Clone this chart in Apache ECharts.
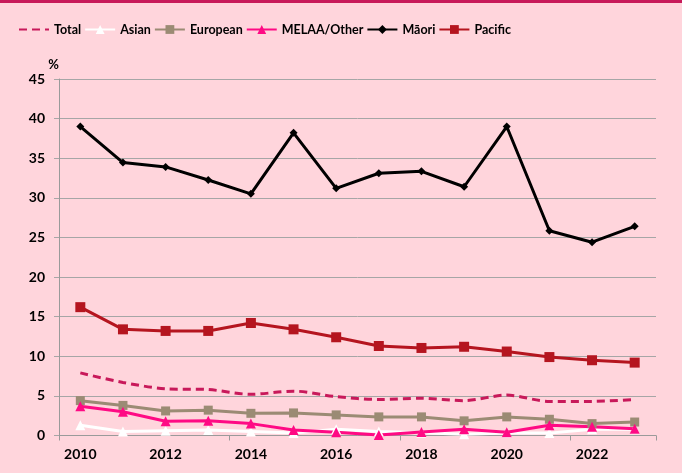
<!DOCTYPE html>
<html lang="en">
<head>
    <meta charset="UTF-8">
    <title>Rates by ethnicity</title>
    <style>
        body{
            margin: 0;
            background: #ffffff;
        }
        #main{
            width: 682px;
            height: 470px;
            border-top: 3px solid #c8195a;
            background: #ffd5dc;
        }
    </style>
</head>
<body>
<div id="main"></div>
<script src="https://cdn.jsdelivr.net/npm/echarts@6/dist/echarts.min.js"></script>
<script>
    // data
    const years = ['2010', '2011', '2012', '2013', '2014', '2015', '2016', '2017', '2018', '2019', '2020', '2021', '2022', '2023'];
    const total = [7.9, 6.7, 5.9, 5.8, 5.2, 5.6, 4.9, 4.55, 4.7, 4.4, 5.1, 4.3, 4.3, 4.55];
    const asian = [1.3, 0.5, 0.6, 0.7, 0.5, 0.3, 0.8, 0.5, 0.35, 0.15, 0.3, 0.3, 0.8, 0.8];
    const european = [4.4, 3.8, 3.1, 3.2, 2.8, 2.85, 2.6, 2.35, 2.35, 1.85, 2.35, 2.05, 1.5, 1.7];
    const melaa = [3.7, 3.0, 1.8, 1.85, 1.5, 0.7, 0.4, 0.05, 0.45, 0.8, 0.4, 1.3, 1.1, 0.85];
    const maori = [39.0, 34.45, 33.9, 32.25, 30.5, 38.2, 31.2, 33.1, 33.35, 31.4, 39.0, 25.85, 24.4, 26.4];
    const pacific = [16.2, 13.4, 13.2, 13.2, 14.2, 13.4, 12.4, 11.3, 11.05, 11.2, 10.6, 9.9, 9.5, 9.2];

    const font = 'Lato, "Open Sans", sans-serif';

    const myChart = echarts.init(document.getElementById('main'));

    // helper for the plain marker lines
    function lineSeries(name, data, color, symbol, size){
        return {
            name: name,
            type: 'line',
            data: data,
            symbol: symbol,
            symbolSize: size,
            lineStyle: {color: color, width: 3},
            itemStyle: {color: color},
            animation: false
        };
    }

    const option = {
        textStyle: {fontFamily: font},
        legend: {
            left: 18,
            top: 20,
            padding: 0,
            itemWidth: 30,
            itemHeight: 11,
            itemGap: 3,
            textStyle: {fontFamily: font, fontWeight: 'bold', fontSize: 12.5, color: '#000'},
            data: [
                {name: 'Total', itemStyle: {opacity: 0}},
                'Asian', 'European', 'MELAA/Other', 'Māori', 'Pacific'
            ]
        },
        grid: {
            left: 59,
            right: 26,
            top: 76,
            bottom: 37.5
        },
        xAxis: {
            type: 'category',
            data: years,
            boundaryGap: true,
            axisLine: {lineStyle: {color: '#9a9a9a', width: 1}},
            axisTick: {show: true, interval: 3, length: 5, lineStyle: {color: '#9a9a9a'}},
            axisLabel: {
                interval: 1,
                margin: 12,
                fontFamily: font,
                fontWeight: 'bold',
                fontSize: 14,
                color: '#000'
            }
        },
        yAxis: {
            type: 'value',
            min: 0,
            max: 45,
            interval: 5,
            name: '%',
            nameLocation: 'end',
            nameGap: 8,
            nameTextStyle: {fontFamily: font, fontWeight: 'bold', fontSize: 13, color: '#000', align: 'right'},
            axisLine: {show: true, lineStyle: {color: '#9a9a9a', width: 1}},
            axisTick: {show: true, length: 5, lineStyle: {color: '#a6a6a6'}},
            splitLine: {lineStyle: {color: '#a6a6a6', width: 1}},
            axisLabel: {
                margin: 14,
                fontFamily: font,
                fontWeight: 'bold',
                fontSize: 14,
                color: '#000'
            }
        },
        series: [
            {
                name: 'Total',
                type: 'line',
                data: total,
                symbol: 'none',
                smooth: 0.3,
                lineStyle: {color: '#c8195a', width: 3, type: [8, 5]},
                itemStyle: {color: '#c8195a'},
                animation: false
            },
            lineSeries('Asian', asian, '#ffffff', 'triangle', 10),
            lineSeries('European', european, '#9b8b74', 'rect', 9),
            lineSeries('MELAA/Other', melaa, '#ff0a84', 'triangle', 10),
            lineSeries('Māori', maori, '#000000', 'diamond', 8),
            lineSeries('Pacific', pacific, '#b5151f', 'rect', 10)
        ]
    };
    myChart.setOption(option);
</script>
</body>
</html>
